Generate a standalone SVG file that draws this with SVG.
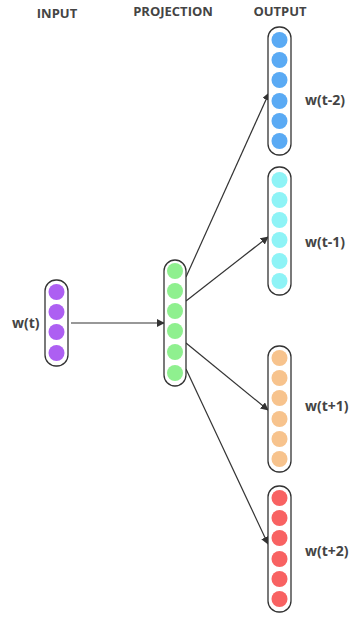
<svg xmlns="http://www.w3.org/2000/svg" width="349" height="617" viewBox="0 0 349 617">
<defs>
<marker id="ah" viewBox="0 0 10 10" refX="9" refY="5" markerWidth="8" markerHeight="8" markerUnits="userSpaceOnUse" orient="auto"><path d="M0,0 L10,5 L0,10 z" fill="#333"/></marker>
<style>
.t{font-family:"Open Sans","Noto Sans",sans-serif;font-weight:bold;font-size:13px;fill:#444}
.l{font-size:14px}
.box{fill:#fff;stroke:#333;stroke-width:1.3}
.e{stroke:#333;stroke-width:1.2;fill:none;marker-end:url(#ah)}
.p{fill:#ad5ff2}.g{fill:#8ff08f}.b{fill:#5aaaf4}.c{fill:#8ef3f6}.o{fill:#f7c38d}.r{fill:#f86262}
</style>
</defs>
<rect width="349" height="617" fill="#fff"/>
<text class="t" x="57" y="18" text-anchor="middle">INPUT</text>
<text class="t" x="173" y="16" text-anchor="middle">PROJECTION</text>
<text class="t" x="280" y="16" text-anchor="middle">OUTPUT</text>
<g id="connectors">
<line class="e" x1="71" y1="323" x2="164" y2="323"/>
<line class="e" x1="186" y1="277" x2="269" y2="93"/>
<line class="e" x1="186" y1="301" x2="268" y2="237"/>
<line class="e" x1="186" y1="343" x2="268" y2="410"/>
<line class="e" x1="186" y1="369" x2="268" y2="544"/>
</g>
<g id="input">
<rect class="box" x="45" y="280" width="23" height="86" rx="11"/>
<circle class="p" cx="56.5" cy="292" r="8"/><circle class="p" cx="56.5" cy="312" r="8"/><circle class="p" cx="56.5" cy="332" r="8"/><circle class="p" cx="56.5" cy="353" r="8"/>
<text class="t l" x="12" y="328">w(t)</text>
</g>
<g id="projection">
<rect class="box" x="164" y="260" width="22" height="126" rx="11"/>
<circle class="g" cx="175" cy="271" r="8"/><circle class="g" cx="175" cy="291" r="8"/><circle class="g" cx="175" cy="311" r="8"/><circle class="g" cx="175" cy="331" r="8"/><circle class="g" cx="175" cy="352" r="8"/><circle class="g" cx="175" cy="373" r="8"/>
</g>
<g id="out_tm2">
<rect class="box" x="268" y="27" width="23" height="128" rx="11"/>
<circle class="b" cx="279.5" cy="40" r="8"/><circle class="b" cx="279.5" cy="60" r="8"/><circle class="b" cx="279.5" cy="80" r="8"/><circle class="b" cx="279.5" cy="101" r="8"/><circle class="b" cx="279.5" cy="121" r="8"/><circle class="b" cx="279.5" cy="141" r="8"/>
<text class="t l" x="305" y="105">w(t-2)</text>
</g>
<g id="out_tm1">
<rect class="box" x="268" y="167" width="23" height="128" rx="11"/>
<circle class="c" cx="279.5" cy="180" r="8"/><circle class="c" cx="279.5" cy="200" r="8"/><circle class="c" cx="279.5" cy="220" r="8"/><circle class="c" cx="279.5" cy="240" r="8"/><circle class="c" cx="279.5" cy="261" r="8"/><circle class="c" cx="279.5" cy="281" r="8"/>
<text class="t l" x="305" y="247">w(t-1)</text>
</g>
<g id="out_tp1">
<rect class="box" x="268" y="346" width="23" height="126" rx="11"/>
<circle class="o" cx="279.5" cy="358" r="8"/><circle class="o" cx="279.5" cy="378" r="8"/><circle class="o" cx="279.5" cy="398" r="8"/><circle class="o" cx="279.5" cy="419" r="8"/><circle class="o" cx="279.5" cy="439" r="8"/><circle class="o" cx="279.5" cy="459" r="8"/>
<text class="t l" x="305" y="411">w(t+1)</text>
</g>
<g id="out_tp2">
<rect class="box" x="268" y="486" width="23" height="126" rx="11"/>
<circle class="r" cx="279.5" cy="498" r="8"/><circle class="r" cx="279.5" cy="518" r="8"/><circle class="r" cx="279.5" cy="538" r="8"/><circle class="r" cx="279.5" cy="559" r="8"/><circle class="r" cx="279.5" cy="579" r="8"/><circle class="r" cx="279.5" cy="599" r="8"/>
<text class="t l" x="305" y="556">w(t+2)</text>
</g>
</svg>
